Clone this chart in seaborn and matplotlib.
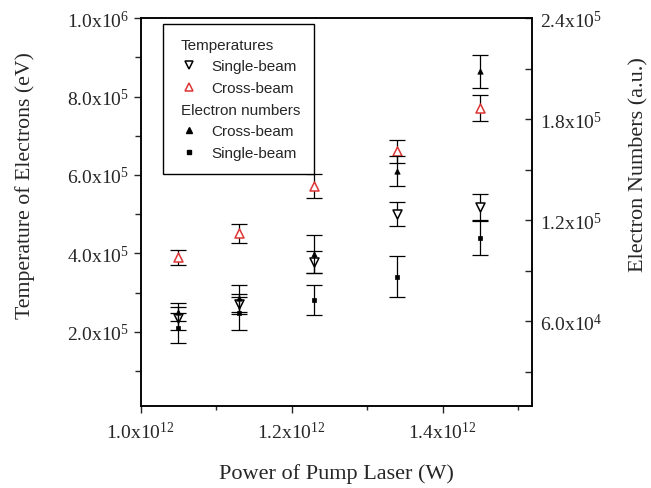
import numpy as np
import matplotlib
matplotlib.use("Agg")
import matplotlib.pyplot as plt
import seaborn as sns
from matplotlib.lines import Line2D
from matplotlib.ticker import MultipleLocator, FuncFormatter

# ---- data ----
power = [1.05e12, 1.13e12, 1.23e12, 1.34e12, 1.45e12]

temp_single = [2.34e5, 2.71e5, 3.79e5, 5.00e5, 5.18e5]
temp_single_err = [2.9e4, 2.6e4, 2.8e4, 3.1e4, 3.3e4]
temp_cross = [3.90e5, 4.51e5, 5.72e5, 6.60e5, 7.70e5]
temp_cross_err = [1.9e4, 2.4e4, 3.0e4, 3.0e4, 3.3e4]

num_cross = [6.54e4, 7.39e4, 1.00e5, 1.494e5, 2.085e5]
num_cross_err = [5.4e3, 8.0e3, 1.13e4, 9.1e3, 1.0e4]
num_single = [5.63e4, 6.49e4, 7.29e4, 8.67e4, 1.096e5]
num_single_err = [8.8e3, 9.7e3, 9.0e3, 1.19e4, 1.01e4]

sns.set_style("ticks")
plt.rcParams["font.family"] = ["Liberation Serif", "DejaVu Serif"]
plt.rcParams["mathtext.default"] = "regular"


def sci_fmt(v, pos):
    if v == 0:
        return "0"
    e = int(np.floor(np.log10(abs(v)) + 1e-9))
    return f"{v / 10**e:.1f}x10$^{{{e}}}$"


fig = plt.figure(figsize=(6.51, 4.89), dpi=100)
ax = fig.add_axes([0.2161, 0.1683, 0.6006, 0.7922])
ax2 = ax.twinx()

eb = dict(fmt="none", ecolor="black", elinewidth=0.9, capsize=5.6, capthick=0.9)

# temperatures (left axis)
ax.errorbar(power, temp_single, yerr=temp_single_err, **eb)
ax.errorbar(power, temp_cross, yerr=temp_cross_err, **eb)
sns.scatterplot(x=power, y=temp_single, ax=ax, marker="v", s=42,
                facecolor="white", edgecolor="black", linewidth=1.1, zorder=5)
sns.scatterplot(x=power, y=temp_cross, ax=ax, marker="^", s=42,
                facecolor="white", edgecolor="#dd3535", linewidth=1.1, zorder=5)

# electron numbers (right axis)
ax2.errorbar(power, num_cross, yerr=num_cross_err, **eb)
ax2.errorbar(power, num_single, yerr=num_single_err, **eb)
sns.scatterplot(x=power, y=num_cross, ax=ax2, marker="^", s=15,
                color="black", edgecolor="black", linewidth=0.5, zorder=5)
sns.scatterplot(x=power, y=num_single, ax=ax2, marker="s", s=9,
                color="black", edgecolor="black", linewidth=0.5, zorder=5)

ax.set_xlim(1.0e12, 1.518e12)
ax.set_ylim(1.1e4, 1.0e6)
ax2.set_ylim(1.0e4, 2.4e5)

ax.xaxis.set_major_locator(MultipleLocator(2e11))
ax.xaxis.set_minor_locator(MultipleLocator(1e11))
ax.yaxis.set_major_locator(MultipleLocator(2e5))
ax.yaxis.set_minor_locator(MultipleLocator(1e5))
ax2.yaxis.set_major_locator(MultipleLocator(6e4))
ax2.yaxis.set_minor_locator(MultipleLocator(3e4))
for a in (ax.xaxis, ax.yaxis, ax2.yaxis):
    a.set_major_formatter(FuncFormatter(sci_fmt))

ax.tick_params(axis="x", which="major", direction="out", length=5, width=1, labelsize=14, pad=6)
ax.tick_params(axis="x", which="minor", direction="out", length=3, width=1)
ax.tick_params(axis="y", which="major", direction="out", length=5, width=1, labelsize=14, pad=3)
ax.tick_params(axis="y", which="minor", direction="out", length=4, width=1)
ax2.tick_params(axis="y", which="both", direction="in", length=5, width=1, labelsize=14, pad=6)
for a in (ax, ax2):
    for sp in a.spines.values():
        sp.set_linewidth(1.1)
        sp.set_color("black")

ax.set_xlabel("Power of Pump Laser (W)", fontsize=16, labelpad=15)
ax.set_ylabel("Temperature of Electrons (eV)", fontsize=15.7, labelpad=23)
ax.yaxis.label.set_y(0.572)
ax2.set_ylabel("Electron Numbers (a.u.)", fontsize=16, labelpad=19)
ax2.yaxis.label.set_y(0.624)

# legend with group headings
blank = Line2D([], [], linestyle="none")
handles = [
    blank,
    Line2D([], [], linestyle="none", marker="v", markersize=6, mfc="white", mec="black", mew=1.1),
    Line2D([], [], linestyle="none", marker="^", markersize=6, mfc="white", mec="#dd3535", mew=1.1),
    blank,
    Line2D([], [], linestyle="none", marker="^", markersize=4, color="black"),
    Line2D([], [], linestyle="none", marker="s", markersize=3, color="black"),
]
labels = ["Temperatures", "Single-beam", "Cross-beam",
          "Electron numbers", "Cross-beam", "Single-beam"]
leg = ax.legend(handles, labels, loc="upper left", bbox_to_anchor=(0.0563, 0.9853),
                frameon=True, fancybox=False, edgecolor="black", framealpha=1,
                prop={"family": "Liberation Sans", "size": 11},
                handlelength=1.6, handletextpad=0.7, labelspacing=0.5,
                borderpad=0.9, borderaxespad=0)
leg.get_frame().set_linewidth(1.0)
leg.set_zorder(10)
header_shift = 31  # pixels: headings start left of the marker column
for i in (0, 3):
    leg.get_texts()[i].set_position((-header_shift, 0))

# the frame is sized for unshifted headings, so trim it by the same amount
_set_bounds = leg.legendPatch.set_bounds


def _trimmed_bounds(*args):
    x, y, w, h = args[0] if len(args) == 1 else args
    _set_bounds(x, y, w - header_shift, h)


leg.legendPatch.set_bounds = _trimmed_bounds

fig.savefig("out.png", dpi=100)
